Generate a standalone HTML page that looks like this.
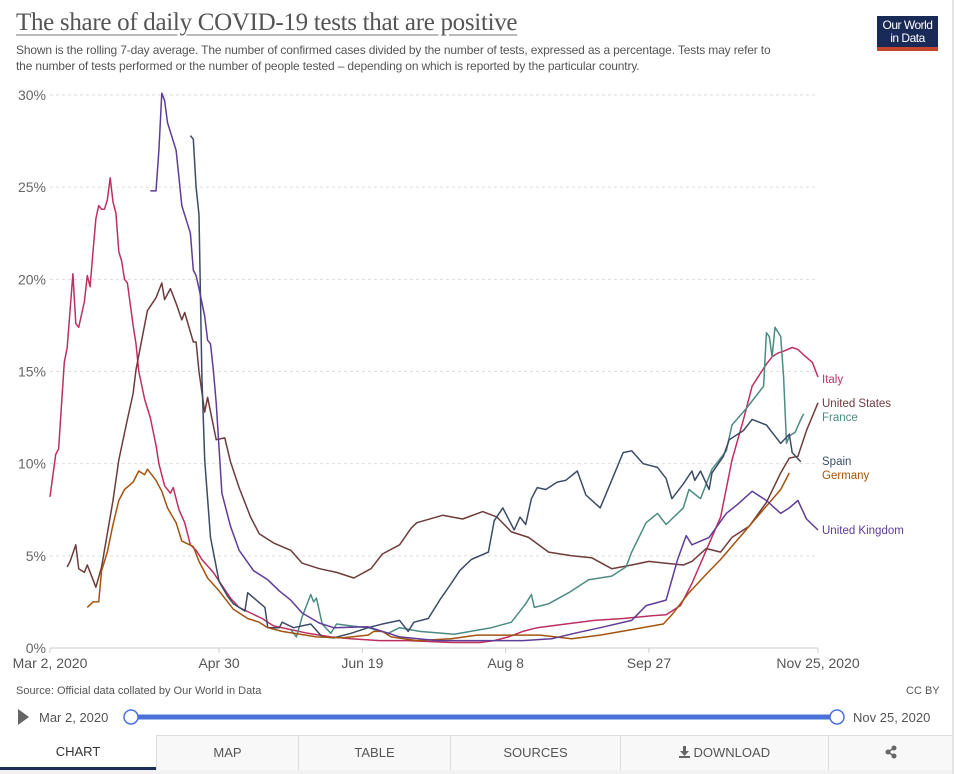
<!DOCTYPE html>
<html><head><meta charset="utf-8">
<style>
html,body{margin:0;padding:0;background:#fff;}
body{width:954px;height:774px;position:relative;overflow:hidden;font-family:"Liberation Sans",sans-serif;}
.abs{position:absolute;}
#title{left:16px;top:9px;font-family:"Liberation Serif",serif;font-size:25px;color:#555;white-space:nowrap;text-decoration:underline;text-decoration-color:#bbb;text-underline-offset:4px;letter-spacing:-0.3px;}
#subtitle{left:16px;top:42px;font-size:12px;line-height:16px;color:#555;width:768px;letter-spacing:-0.15px;}
#logo{left:877px;top:16px;width:61px;height:35px;background:#1a2a56;color:#fff;font-size:12px;line-height:13px;text-align:center;box-sizing:border-box;padding-top:3px;border-bottom:4px solid #c3452b;letter-spacing:-0.5px;}
#source{left:16px;top:685px;font-size:11px;color:#555;}
#ccby{left:906px;top:685px;font-size:11px;color:#555;}
.tab{position:absolute;top:735px;height:35px;line-height:33px;text-align:center;font-size:13px;color:#555;border-left:1px solid #ddd;border-top:1px solid #ddd;box-sizing:border-box;background:#f8f8f8;}
</style></head>
<body>
<div style="position:absolute;left:952px;top:0;width:2px;height:774px;background:#e4e4e4"></div>
<div id="title" class="abs">The share of daily COVID-19 tests that are positive</div>
<div id="subtitle" class="abs">Shown is the rolling 7-day average. The number of confirmed cases divided by the number of tests, expressed as a percentage. Tests may refer to the number of tests performed or the number of people tested – depending on which is reported by the particular country.</div>
<div id="logo" class="abs">Our World<br>in Data</div>

<svg id="chart" class="abs" style="left:0;top:0" width="954" height="680"></svg>

<div id="source" class="abs">Source: Official data collated by Our World in Data</div>
<div id="ccby" class="abs">CC BY</div>

<svg class="abs" style="left:0;top:700px" width="954" height="34">
  <polygon points="18,9 29,17 18,25" fill="#666"/>
  <text x="39" y="22" font-size="13" fill="#555" font-family="Liberation Sans, sans-serif">Mar 2, 2020</text>
  <rect x="131" y="14.5" width="706" height="5" fill="#4a72d9"/>
  <circle cx="131" cy="17" r="7" fill="#fff" stroke="#4a72d9" stroke-width="1.5"/>
  <circle cx="837" cy="17" r="7" fill="#fff" stroke="#4a72d9" stroke-width="1.5"/>
  <text x="853" y="22" font-size="13" fill="#555" font-family="Liberation Sans, sans-serif">Nov 25, 2020</text>
</svg>

<div style="position:absolute;left:0;top:769px;width:952px;height:5px;background:#f2f2f2"></div>
<div class="tab" style="left:0;width:156px;background:#fff;border-left:none;border-top:none;border-bottom:3px solid #1d2d55;color:#333">CHART</div>
<div class="tab" style="left:156px;width:142px">MAP</div>
<div class="tab" style="left:298px;width:152px">TABLE</div>
<div class="tab" style="left:450px;width:170px">SOURCES</div>
<div class="tab" style="left:620px;width:208px"><svg width="11" height="12" style="vertical-align:-1px"><rect x="4" y="0" width="3" height="6" fill="#666"/><polygon points="1,5 10,5 5.5,10" fill="#666"/><rect x="0" y="10" width="11" height="2" fill="#666"/></svg> DOWNLOAD</div>
<div class="tab" style="left:828px;width:124px"><svg width="12" height="14" style="vertical-align:-2px"><line x1="9" y1="3" x2="3" y2="7" stroke="#666" stroke-width="1.5"/><line x1="9" y1="11" x2="3" y2="7" stroke="#666" stroke-width="1.5"/><circle cx="9" cy="3" r="2.5" fill="#666"/><circle cx="9" cy="11" r="2.5" fill="#666"/><circle cx="3" cy="7" r="2.5" fill="#666"/></svg></div>

<script>
// ---- data ----
const xTickDays = [0, 59, 109, 159, 209, 268];
const xTickLabels = ["Mar 2, 2020", "Apr 30", "Jun 19", "Aug 8", "Sep 27", "Nov 25, 2020"];
const yTicks = [0, 5, 10, 15, 20, 25, 30];
const yTickLabels = ["0%", "5%", "10%", "15%", "20%", "25%", "30%"];

const seriesNames = ["Italy", "United States", "France", "Spain", "Germany", "United Kingdom"];

const italyDays = [0,2,3,5,6,8,9,10,12,13,14,15,16,17,18,19,20,21,22,23,24,25,26,27,29,30,31,33,35,37,38,40,42,43,45,47,49,51,53,57,60,63,66,70,74,78,84,90,98,105,115,125,140,150,155,160,165,170,180,190,200,210,215,220,224,229,234,238,242,245,250,252,254,256,259,261,263,266,268];
const italyVals = [8.2,10.5,10.8,15.5,16.3,20.3,17.6,17.4,18.8,20.2,19.6,21.5,23.3,24,23.8,23.8,24.3,25.5,24.2,23.6,21.5,21,20,19.8,17.5,16.5,15,13.5,12.5,11,10,8.8,8.4,8.7,7.5,6.8,5.6,5.3,4.8,4.1,3.4,2.7,2.2,1.9,1.6,1.2,1.0,0.8,0.6,0.5,0.4,0.4,0.3,0.3,0.4,0.6,0.9,1.1,1.3,1.5,1.6,1.75,1.8,2.3,3.5,5.3,7.1,10.2,12.4,14.2,15.4,15.8,16.0,16.1,16.3,16.2,15.9,15.5,14.7];

const usDays = [6,7,9,10,12,13,16,18,22,24,27,29,30,34,37,39,40,42,44,46,47,50,51,52,54,55,58,61,63,66,70,73,78,84,88,94,100,106,112,116,122,126,128,137,144,151,156,161,167,174,182,189,196,203,209,215,221,224,229,234,238,244,250,255,258,261,264,268];
const usVals = [4.4,4.7,5.6,4.3,4.1,4.5,3.3,4.4,8.0,10.2,12.4,13.8,15.1,18.3,19.0,19.8,18.9,19.5,18.7,17.8,18.2,16.6,16.6,15.0,12.8,13.6,11.3,11.4,10.1,8.7,7.1,6.2,5.7,5.3,4.6,4.3,4.1,3.8,4.3,5.1,5.6,6.5,6.8,7.2,7.0,7.4,7.1,6.3,6.0,5.2,5.0,4.9,4.3,4.5,4.7,4.6,4.5,4.7,5.4,5.2,6.0,6.6,7.9,9.5,10.3,10.4,11.8,13.3];

const franceDays = [84,86,88,91,92,93,95,98,100,105,111,118,122,129,141,154,161,166,168,169,174,181,188,196,201,203,208,212,215,221,223,227,231,236,238,243,245,249,250,251,252,253,255,256,257,258,260,262,263];
const franceVals = [1.0,0.6,1.7,2.9,2.5,2.7,1.3,0.8,1.3,1.2,1.1,0.8,1.1,0.9,0.75,1.1,1.4,2.4,2.9,2.2,2.4,3.0,3.7,3.9,4.4,5.2,6.8,7.3,6.7,7.6,8.6,8.1,9.7,10.7,12.1,13.0,13.4,14.2,17.1,16.9,15.8,17.4,16.9,14.7,11.1,11.5,11.7,12.4,12.7];

const spainDays = [49,50,51,52,53,54,56,59,62,64,68,69,72,75,76,80,81,85,91,95,99,105,111,116,122,125,127,132,136,140,143,147,153,155,158,162,164,166,168,170,173,177,180,184,187,192,196,200,203,207,212,215,217,221,224,225,227,230,231,235,237,242,245,250,255,258,259,262];
const spainVals = [27.8,27.6,25,23.5,14.7,10.2,6.0,3.6,2.8,2.4,2.0,3.0,2.6,2.2,1.1,1.1,1.4,1.1,1.3,0.6,0.55,0.8,1.1,1.3,1.5,0.9,1.4,1.6,2.6,3.5,4.2,4.8,5.2,6.9,7.6,6.4,7.1,6.7,8.1,8.7,8.6,9.0,9.1,9.6,8.3,7.6,9.1,10.6,10.7,10.0,9.8,9.2,8.1,8.9,9.6,9.1,9.6,8.6,9.5,10.4,11.3,11.8,12.4,12.1,11.1,11.6,10.6,10.1];

const germanyDays = [13,15,17,18,20,22,24,26,29,31,33,34,37,39,41,44,46,50,52,55,59,64,69,73,76,81,93,102,111,113,116,119,128,140,149,160,171,182,192,203,214,217,223,229,234,245,250,255,258];
const germanyVals = [2.2,2.5,2.5,4.2,5.2,6.7,8.0,8.6,9.0,9.6,9.4,9.7,9.1,8.5,7.6,6.8,5.8,5.5,4.7,3.8,3.1,2.1,1.6,1.4,1.1,0.9,0.6,0.55,0.7,0.9,0.9,0.6,0.4,0.5,0.7,0.7,0.7,0.5,0.7,1.0,1.3,1.8,3.0,4.0,4.8,6.8,7.7,8.6,9.5];

const ukDays = [35,37,38,39,40,41,42,44,45,46,47,49,50,51,52,54,55,56,57,58,60,63,66,71,76,80,84,88,94,99,111,122,135,150,165,175,183,192,203,208,215,219,222,224,230,236,240,245,250,255,258,261,264,268];
const ukVals = [24.8,24.8,27,30.1,29.7,28.5,28,27,25.5,24,23.5,22.5,20.5,20.2,19.5,18,16.7,16.5,15.1,13.3,8.4,6.6,5.3,4.2,3.7,3.1,2.6,1.9,1.35,1.1,1.15,0.6,0.4,0.4,0.4,0.5,0.8,1.1,1.5,2.3,2.6,4.8,6.1,5.6,6.0,7.3,7.8,8.5,8.0,7.3,7.6,8.0,7.0,6.4];

const seriesDays = [italyDays, usDays, franceDays, spainDays, germanyDays, ukDays];
const seriesVals = [italyVals, usVals, franceVals, spainVals, germanyVals, ukVals];
const seriesColors = ["#be2f60", "#6e3b3b", "#4c8b83", "#3c4b66", "#a4530f", "#5f3c97"];
const labelY = [379, 403, 417, 461, 475, 530];

// ---- scales ----
const X0 = 50, X1 = 818, Y0 = 648, Y1 = 95, DMAX = 268, VMAX = 30;
function xs(d){ return X0 + d/DMAX*(X1-X0); }
function ys(v){ return Y0 - v/VMAX*(Y0-Y1); }

const NS = "http://www.w3.org/2000/svg";
const svg = document.getElementById("chart");
function mk(tag, attrs){ const e = document.createElementNS(NS, tag); for (const k in attrs) e.setAttribute(k, attrs[k]); return e; }

yTicks.forEach((t, i) => {
  if (t > 0) {
    const g = mk("line", {x1: X0, x2: X1, y1: ys(t), y2: ys(t), stroke: "#ddd", "stroke-dasharray": "3,3"});
    
    
    svg.appendChild(g);
  }
  const lab = mk("text", {x: 46, y: ys(t) + 5, "text-anchor": "end", "font-size": "14", fill: "#666", "font-family": "Liberation Sans, sans-serif"});
  lab.textContent = yTickLabels[i];
  
  
  svg.appendChild(lab);
});

const ax = mk("line", {x1: X0, x2: X1, y1: Y0, y2: Y0, stroke: "#ccc"});


svg.appendChild(ax);
xTickDays.forEach((d, i) => {
  const tk = mk("line", {x1: xs(d), x2: xs(d), y1: Y0, y2: Y0 + 5, stroke: "#ccc"});
  
  
  svg.appendChild(tk);
  const lab = mk("text", {x: xs(d), y: 668, "text-anchor": "middle", "font-size": "14", fill: "#555", "font-family": "Liberation Sans, sans-serif"});
  lab.textContent = xTickLabels[i];
  
  
  svg.appendChild(lab);
});

seriesNames.forEach((name, s) => {
  const days = seriesDays[s], vals = seriesVals[s];
  const pts = days.map((d, i) => xs(d).toFixed(1) + "," + ys(vals[i]).toFixed(1)).join(" ");
  const pl = mk("polyline", {points: pts, fill: "none", stroke: seriesColors[s], "stroke-width": "1.5", "stroke-linejoin": "round"});
  
  
  svg.appendChild(pl);
  const lab = mk("text", {x: 822, y: labelY[s] + 4, "font-size": "11.5", fill: seriesColors[s], "font-family": "Liberation Sans, sans-serif"});
  lab.textContent = name;
  
  
  svg.appendChild(lab);
});
</script>
</body></html>
